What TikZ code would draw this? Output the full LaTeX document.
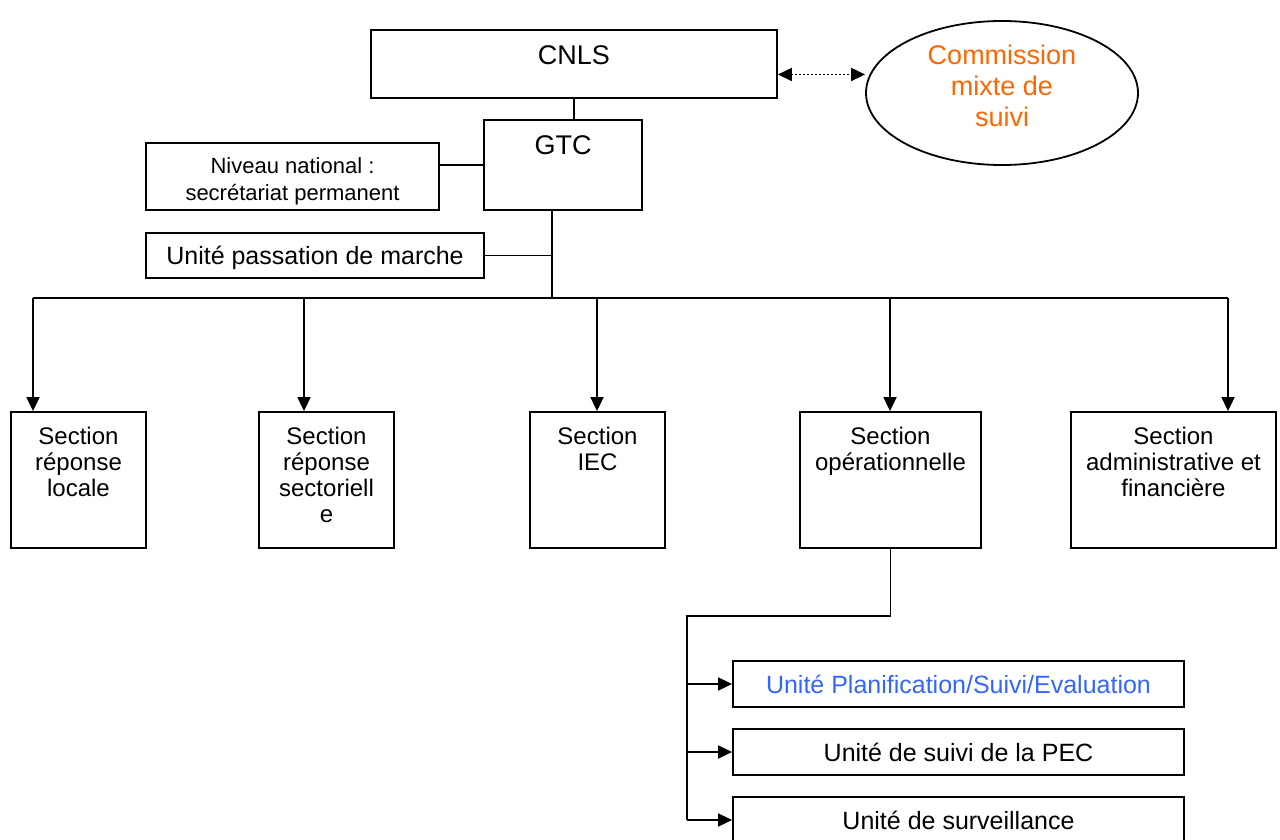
\documentclass[tikz,border=0pt]{standalone}
\usepackage{fontspec}
\setmainfont{Liberation Sans}
\usetikzlibrary{arrows.meta, calc, shapes.geometric}

\definecolor{orangeCom}{RGB}{255,102,0}
\definecolor{bleuUnite}{RGB}{51,102,255}

\tikzset{
  boite/.style={draw, line width=0.9pt, inner sep=0pt},
  txt/.style={anchor=north, align=center, inner sep=0pt},
  fleche/.style={-{Triangle[length=7pt,width=6.5pt]}, line width=0.9pt},
  trait/.style={line width=0.9pt},
  grand/.style={font=\fontsize{13.5}{15.5}\selectfont},
  moyen/.style={font=\fontsize{12}{13}\selectfont},
  unite/.style={boite, minimum width=225.5pt, minimum height=23pt,
    text depth=0pt, font=\fontsize{12.5}{14}\selectfont},
  section/.style={boite, minimum height=68pt},
}

\begin{document}
\begin{tikzpicture}[x=0.5pt, y=-0.5pt]
\useasboundingbox (0,0) rectangle (1280,840);

%% Niveau haut
\node[boite, minimum width=203pt, minimum height=34pt,
  label={[txt, grand, yshift=-8pt]north:CNLS}] (cnls) at (574,64) {};
\node[boite, minimum width=79pt, minimum height=45pt,
  label={[txt, grand, yshift=-8pt]north:GTC}] (gtc) at (563,165) {};
\node[boite, ellipse, minimum width=136pt, minimum height=72pt,
  label={[grand, align=center, text=orangeCom, yshift=3.5pt]center:Commission\\mixte de\\suivi}] (com) at (1002,93) {};
\node[boite, minimum width=146.5pt, minimum height=33.5pt,
  label={[txt, yshift=-7.5pt, font=\fontsize{11}{13.5}\selectfont]north:Niveau national :\\secrétariat permanent}] (niveau) at (292.5,176.5) {};
\node[boite, minimum width=169pt, minimum height=22.5pt, text depth=0pt,
  font=\fontsize{12.5}{14}\selectfont] (passation) at (315,255.5) {Unité passation de marche};

%% Sections
\node[section, minimum width=67.5pt,
  label={[txt, moyen, yshift=-8pt]north:Section\\réponse\\locale}] (loc) at (78.5,480) {};
\node[section, minimum width=67.5pt,
  label={[txt, moyen, yshift=-8pt]north:Section\\réponse\\sectoriell\\e}] (sect) at (326.5,480) {};
\node[section, minimum width=67.5pt,
  label={[txt, moyen, yshift=-8pt]north:Section\\IEC}] (iec) at (597.5,480) {};
\node[section, minimum width=90.5pt,
  label={[txt, moyen, yshift=-8pt]north:Section\\opérationnelle}] (ope) at (890.5,480) {};
\node[section, minimum width=102.5pt,
  label={[txt, moyen, yshift=-8pt]north:Section\\administrative et\\financière}] (adm) at (1173.5,480) {};

%% Unites
\node[unite, text=bleuUnite] (pse) at (958.5,684) {Unité Planification/Suivi/Evaluation};
\node[unite] (pec) at (958.5,752) {Unité de suivi de la PEC};
\node[unite] (sur) at (958.5,820) {Unité de surveillance};

%% Liaisons du haut
\draw[trait] (cnls.south) -- (cnls.south |- gtc.north);
\coordinate (nivR) at ($(niveau.north east)!0.33!(niveau.south east)$);
\draw[trait] (nivR) -- (nivR -| gtc.west);
\coordinate (cnlsR) at ($(cnls.north east)!0.65!(cnls.south east)$);
\draw[trait, dash pattern=on 1pt off 1pt, {Triangle[length=7pt,width=6.5pt]}-{Triangle[length=7pt,width=6.5pt]}]
  (cnlsR) -- (cnlsR -| com.west);

%% Bus vers les sections
\coordinate (bus) at (552,298);
\draw[trait] (gtc.south -| bus) -- (bus);
\draw[trait] (passation.east) -- (passation.east -| bus);
\foreach \bx/\sec in {33/loc, 304/sect, 597/iec, 890/ope, 1228/adm}{
  \coordinate (b-\sec) at (\bx,298);
  \draw[fleche] (b-\sec) -- (b-\sec |- \sec.north);}
\draw[trait] (b-loc) -- (b-adm);

%% Section operationnelle -> unites
\coordinate (coude) at (687,616);
\draw[trait] (ope.south) |- (coude) -- (coude |- sur.west);
\foreach \u in {pse,pec,sur}{
  \draw[fleche] (coude |- \u.west) -- (\u.west);}
\end{tikzpicture}
\end{document}
